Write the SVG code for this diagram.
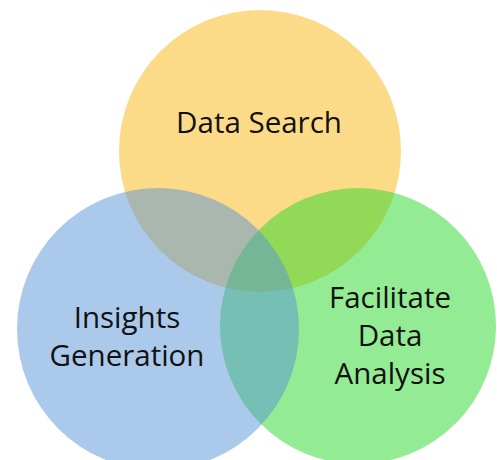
<svg xmlns="http://www.w3.org/2000/svg" width="497" height="460" viewBox="0 0 497 460">
<style>
.lbl{font-family:"Open Sans","Noto Sans","Liberation Sans",sans-serif;font-size:29.5px;fill:#111111;text-anchor:middle}
</style>
<rect width="497" height="460" fill="#ffffff"/>
<g id="data-search">
<circle cx="260" cy="151" r="141" fill="#FAB812" fill-opacity="0.5"/>
</g>
<g id="facilitate">
<circle cx="358" cy="326" r="138" fill="#28D828" fill-opacity="0.5"/>
</g>
<g id="insights">
<circle cx="158" cy="329" r="141" fill="#5793D6" fill-opacity="0.5"/>
</g>
<g id="labels">
<text class="lbl" x="259" y="133">Data Search</text>
<text class="lbl" x="127" y="328">Insights</text>
<text class="lbl" x="127" y="366">Generation</text>
<text class="lbl" x="390" y="308">Facilitate</text>
<text class="lbl" x="390" y="346">Data</text>
<text class="lbl" x="390" y="384">Analysis</text>
</g>
<g id="connectors"/>
</svg>
